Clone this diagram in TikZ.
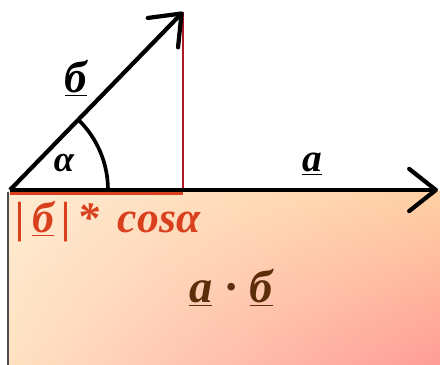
\documentclass[tikz,border=0pt]{standalone}
\usepackage{fontspec}
\setmainfont{Liberation Serif}
\usepackage{xcolor}
\usepackage{tikz}
\usetikzlibrary{arrows.meta, positioning, shadings}

\definecolor{projred}{HTML}{D8401E}
\definecolor{footred}{HTML}{B01828}
\definecolor{prodbrown}{HTML}{5C2E0A}
\definecolor{peachUL}{HTML}{FFEBD2}
\definecolor{peachUR}{HTML}{FFD0A4}
\definecolor{peachLL}{HTML}{FFE2C2}
\definecolor{peachLR}{HTML}{FF9C96}

\begin{document}
\begin{tikzpicture}[
    x=0.025cm, y=0.025cm,
    vec/.style={
        -{Straight Barb[length=19pt, width=30pt, round]},
        line width=3pt
    },
    lbl/.style={
        anchor=base,
        inner sep=0pt,
        font=\fontsize{28}{30}\selectfont\bfseries\itshape
    }
]

\useasboundingbox (0,0) rectangle (440,365);

% background panel
\shade[upper left=peachUL, upper right=peachUR,
       lower left=peachLL, lower right=peachLR] (8,0) rectangle (440,173);
\draw[black!70, line width=1pt] (8,0) -- (8,173);

\coordinate (O) at (10,175);
\coordinate (A) at (438,175);
\coordinate (B) at (183,353);
\coordinate (F) at (183,175);
\coordinate (P0) at (10,171.5);
\coordinate (P1) at (183,171.5);

% projection
\draw[footred, line width=0.8pt] (B) -- (F);
\draw[projred, line width=2.4pt] (P0) -- (P1);

% vectors
\draw[vec] (O) -- (A);
\draw[vec] (O) -- (B);

% angle
\draw[line width=2.6pt] ([xshift=98*0.025cm]O) arc[start angle=0, end angle=45.8, radius=2.45cm];

\node[lbl, font=\fontsize{32}{34}\selectfont\bfseries\itshape] (labelb) at (76,272) {\underline{б}};
\node[lbl, font=\fontsize{26}{28}\selectfont\bfseries\itshape] (alpha) at (64,193) {α};
\node[lbl] (labela) at (312,193) {\underline{a}};
\node[lbl, anchor=base west, text=projred,
      font=\fontsize{31}{33}\selectfont\bfseries\itshape] (proj) at (15,132)
{|\,\underline{б}\,|\,*\, cosα};
\node[lbl, text=prodbrown,
      font=\fontsize{33}{35}\selectfont\bfseries\itshape] (product) at (231,62)
{\underline{a}\;·\;\underline{б}};

\end{tikzpicture}
\end{document}
